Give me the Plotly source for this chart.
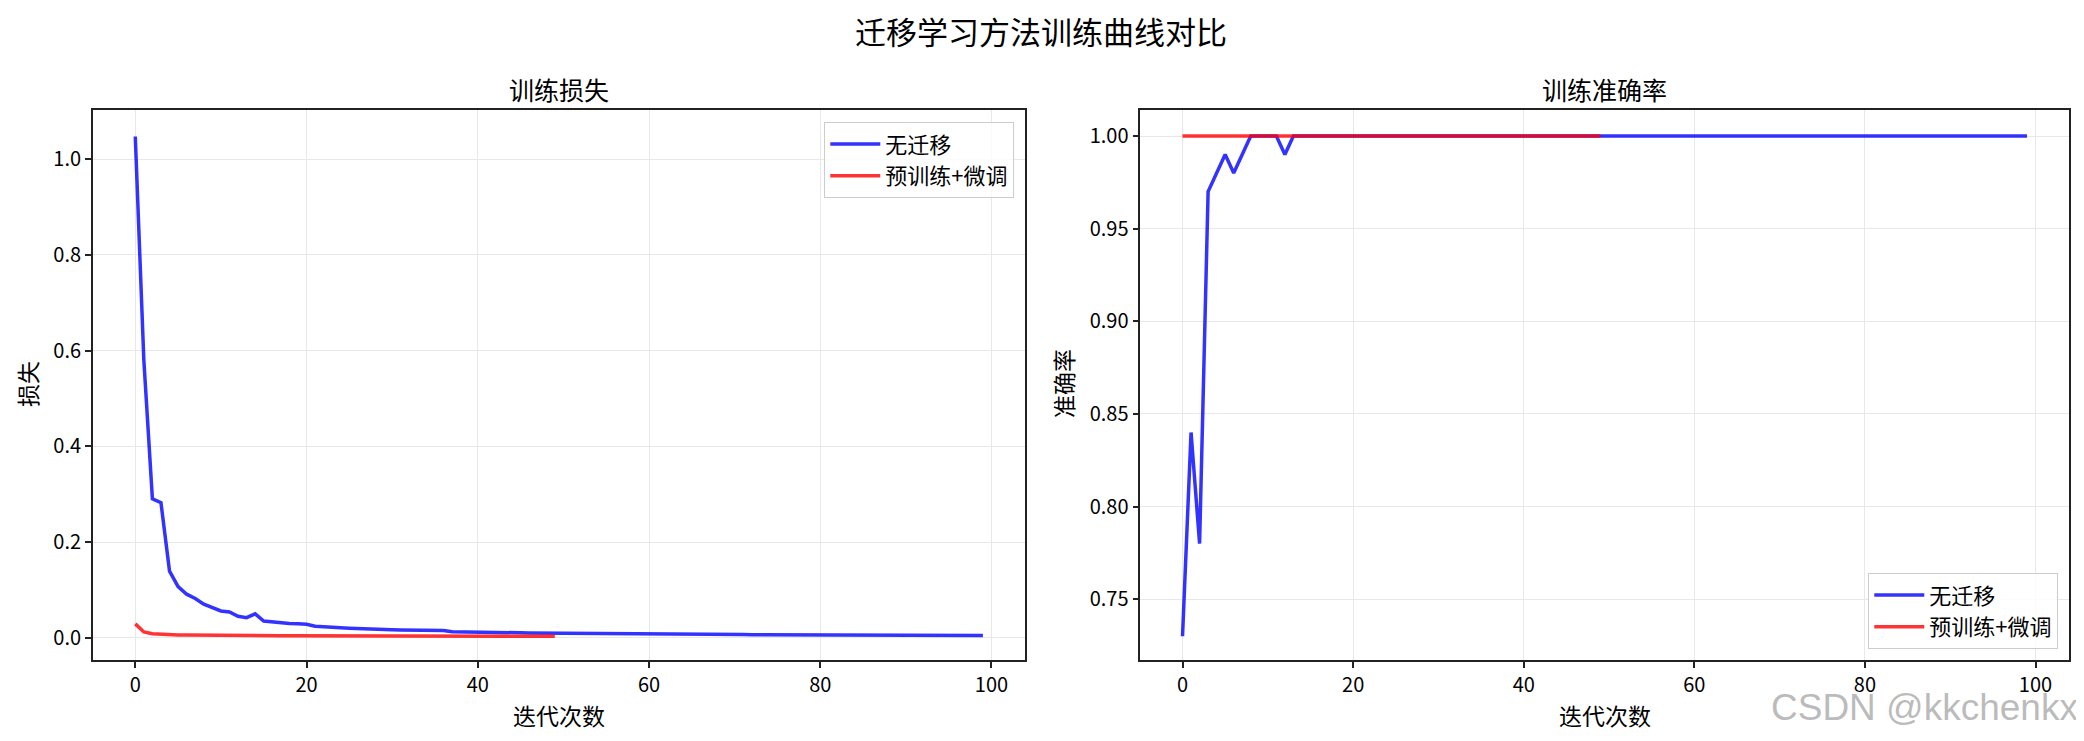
import plotly.graph_objects as go

# The page body has an 8px margin, so the figure is sized to fit the window with it
OFF = 8
W, H = 2084 - OFF, 741 - OFF

epochs_no_transfer = list(range(100))
epochs_finetune = list(range(50))

loss_no_transfer = [
    1.047, 0.580, 0.290, 0.282, 0.139, 0.107, 0.091, 0.082, 0.070, 0.063,
    0.056, 0.054, 0.045, 0.042, 0.050, 0.035, 0.033, 0.032, 0.030, 0.029,
    0.028, 0.024, 0.0235, 0.023, 0.021, 0.020, 0.019, 0.018, 0.017, 0.0168,
    0.0165, 0.016, 0.0155, 0.015, 0.0145, 0.014, 0.0153, 0.0125, 0.012, 0.0118,
    0.0115, 0.0112, 0.0110, 0.0108, 0.0105, 0.0103, 0.0100, 0.0098, 0.0096, 0.0094,
    0.0092, 0.0090, 0.0089, 0.0087, 0.0086, 0.0084, 0.0083, 0.0081, 0.0080, 0.0079,
    0.0078, 0.0076, 0.0075, 0.0074, 0.0073, 0.0072, 0.0071, 0.0070, 0.0069, 0.0068,
    0.0067, 0.0066, 0.0065, 0.0064, 0.0064, 0.0063, 0.0062, 0.0061, 0.0060, 0.0060,
    0.0059, 0.0058, 0.0057, 0.0057, 0.0056, 0.0055, 0.0055, 0.0054, 0.0053, 0.0053,
    0.0052, 0.0051, 0.0051, 0.0050, 0.0050, 0.0049, 0.0049, 0.0048, 0.0048, 0.0047,
]
loss_finetune = [
    0.029, 0.012, 0.0085, 0.0070, 0.0062, 0.0058, 0.0055, 0.0052, 0.0050, 0.0048,
    0.0047, 0.0046, 0.0045, 0.0044, 0.0043, 0.0042, 0.0042, 0.0041, 0.0040, 0.0040,
    0.0039, 0.0039, 0.0038, 0.0038, 0.0037, 0.0037, 0.0036, 0.0036, 0.0036, 0.0035,
    0.0035, 0.0035, 0.0034, 0.0034, 0.0034, 0.0033, 0.0033, 0.0033, 0.0033, 0.0032,
    0.0032, 0.0032, 0.0032, 0.0031, 0.0031, 0.0031, 0.0031, 0.0031, 0.0030, 0.0030,
]
acc_no_transfer = [0.73, 0.84, 0.78, 0.97, 0.98, 0.99, 0.98, 0.99, 1.00, 1.00,
                   1.00, 1.00, 0.99, 1.00] + [1.00] * 86
acc_finetune = [1.00] * 50

name_no = "无迁移"
name_ft = "预训练+微调"
suptitle = "迁移学习方法训练曲线对比"
title_loss = "训练损失"
title_acc = "训练准确率"
xlabel = "迭代次数"
ylabel_loss = "损失"
ylabel_acc = "准确率"
watermark = "CSDN @kkchenkx"

x_ticks = [0, 20, 40, 60, 80, 100]
loss_ticks = [0.0, 0.2, 0.4, 0.6, 0.8, 1.0]
loss_tick_text = ["0.0", "0.2", "0.4", "0.6", "0.8", "1.0"]
acc_ticks = [0.75, 0.80, 0.85, 0.90, 0.95, 1.00]
acc_tick_text = ["0.75", "0.80", "0.85", "0.90", "0.95", "1.00"]

BLUE = "rgba(0,0,255,0.8)"
RED = "rgba(255,0,0,0.8)"
CJK = "Noto Sans CJK SC"
LW = 3.5

fig = go.Figure()
fig.add_trace(go.Scatter(x=epochs_no_transfer, y=loss_no_transfer, mode="lines", name=name_no,
                         line=dict(color=BLUE, width=LW), xaxis="x", yaxis="y", legend="legend"))
fig.add_trace(go.Scatter(x=epochs_finetune, y=loss_finetune, mode="lines", name=name_ft,
                         line=dict(color=RED, width=LW), xaxis="x", yaxis="y", legend="legend"))
fig.add_trace(go.Scatter(x=epochs_no_transfer, y=acc_no_transfer, mode="lines", name=name_no,
                         line=dict(color=BLUE, width=LW), xaxis="x2", yaxis="y2", legend="legend2"))
fig.add_trace(go.Scatter(x=epochs_finetune, y=acc_finetune, mode="lines", name=name_ft,
                         line=dict(color=RED, width=LW), xaxis="x2", yaxis="y2", legend="legend2"))


def px_x(p):
    return (p - OFF) / W


def px_y(p):
    return 1 - (p - OFF) / H


axis_common = dict(showline=True, linecolor="#222222", linewidth=1.6, mirror=True,
                   ticks="outside", ticklen=6, tickwidth=1.5, tickcolor="#222222",
                   showgrid=True, gridcolor="#e8e8e8", gridwidth=1.3, zeroline=False,
                   tickfont=dict(family=CJK, size=20, color="black"))

L0, L1 = 92.9, 1025.3
R0, R1 = 1140.3, 2069.2
ydom = [px_y(660), px_y(109.5)]
legend_common = dict(bgcolor="rgba(255,255,255,0.8)", bordercolor="#cccccc", borderwidth=1.3,
                     font=dict(family=CJK, size=22, color="black"), tracegroupgap=0,
                     itemwidth=50)
fig.update_layout(
    width=W, height=H, plot_bgcolor="white", paper_bgcolor="white",
    margin=dict(l=0, r=0, t=0, b=0),
    xaxis=dict(domain=[px_x(L0), px_x(L1)], range=[-4.95, 103.95],
               tickvals=x_ticks, anchor="y", **axis_common),
    yaxis=dict(domain=ydom, range=[-0.0465, 1.1035], tickvals=loss_ticks,
               ticktext=loss_tick_text, anchor="x", **axis_common),
    xaxis2=dict(domain=[px_x(R0), px_x(R1)], range=[-4.95, 103.95],
                tickvals=x_ticks, anchor="y2", **axis_common),
    yaxis2=dict(domain=ydom, range=[0.7172, 1.0143], tickvals=acc_ticks,
                ticktext=acc_tick_text, anchor="x2", **axis_common),
    legend=dict(x=px_x(1014), y=px_y(122), xanchor="right", yanchor="top", **legend_common),
    legend2=dict(x=px_x(2058), y=px_y(649), xanchor="right", yanchor="bottom", **legend_common),
    showlegend=True,
)

ann = []


def add_text(text, x, y, size, angle=0, family=CJK, color="black", xanchor="center"):
    ann.append(dict(text=text, x=px_x(x), y=px_y(y), xref="paper", yref="paper",
                    showarrow=False, xanchor=xanchor, yanchor="middle", textangle=angle,
                    font=dict(family=family, size=size, color=color)))


add_text(suptitle, 1041, 30, 31)
add_text(title_loss, (L0 + L1) / 2, 89.5, 25)
add_text(title_acc, (R0 + R1) / 2, 89.5, 25)
add_text(xlabel, (L0 + L1) / 2, 715, 23)
add_text(xlabel, (R0 + R1) / 2, 715, 23)
add_text(ylabel_loss, 27, 384, 23, angle=-90)
add_text(ylabel_acc, 1063, 384, 23, angle=-90)
add_text(watermark, 2080, 707, 37, family="Liberation Sans",
         color="rgba(175,175,175,0.85)", xanchor="right")
fig.update_layout(annotations=ann)

fig.write_html("out.html")
